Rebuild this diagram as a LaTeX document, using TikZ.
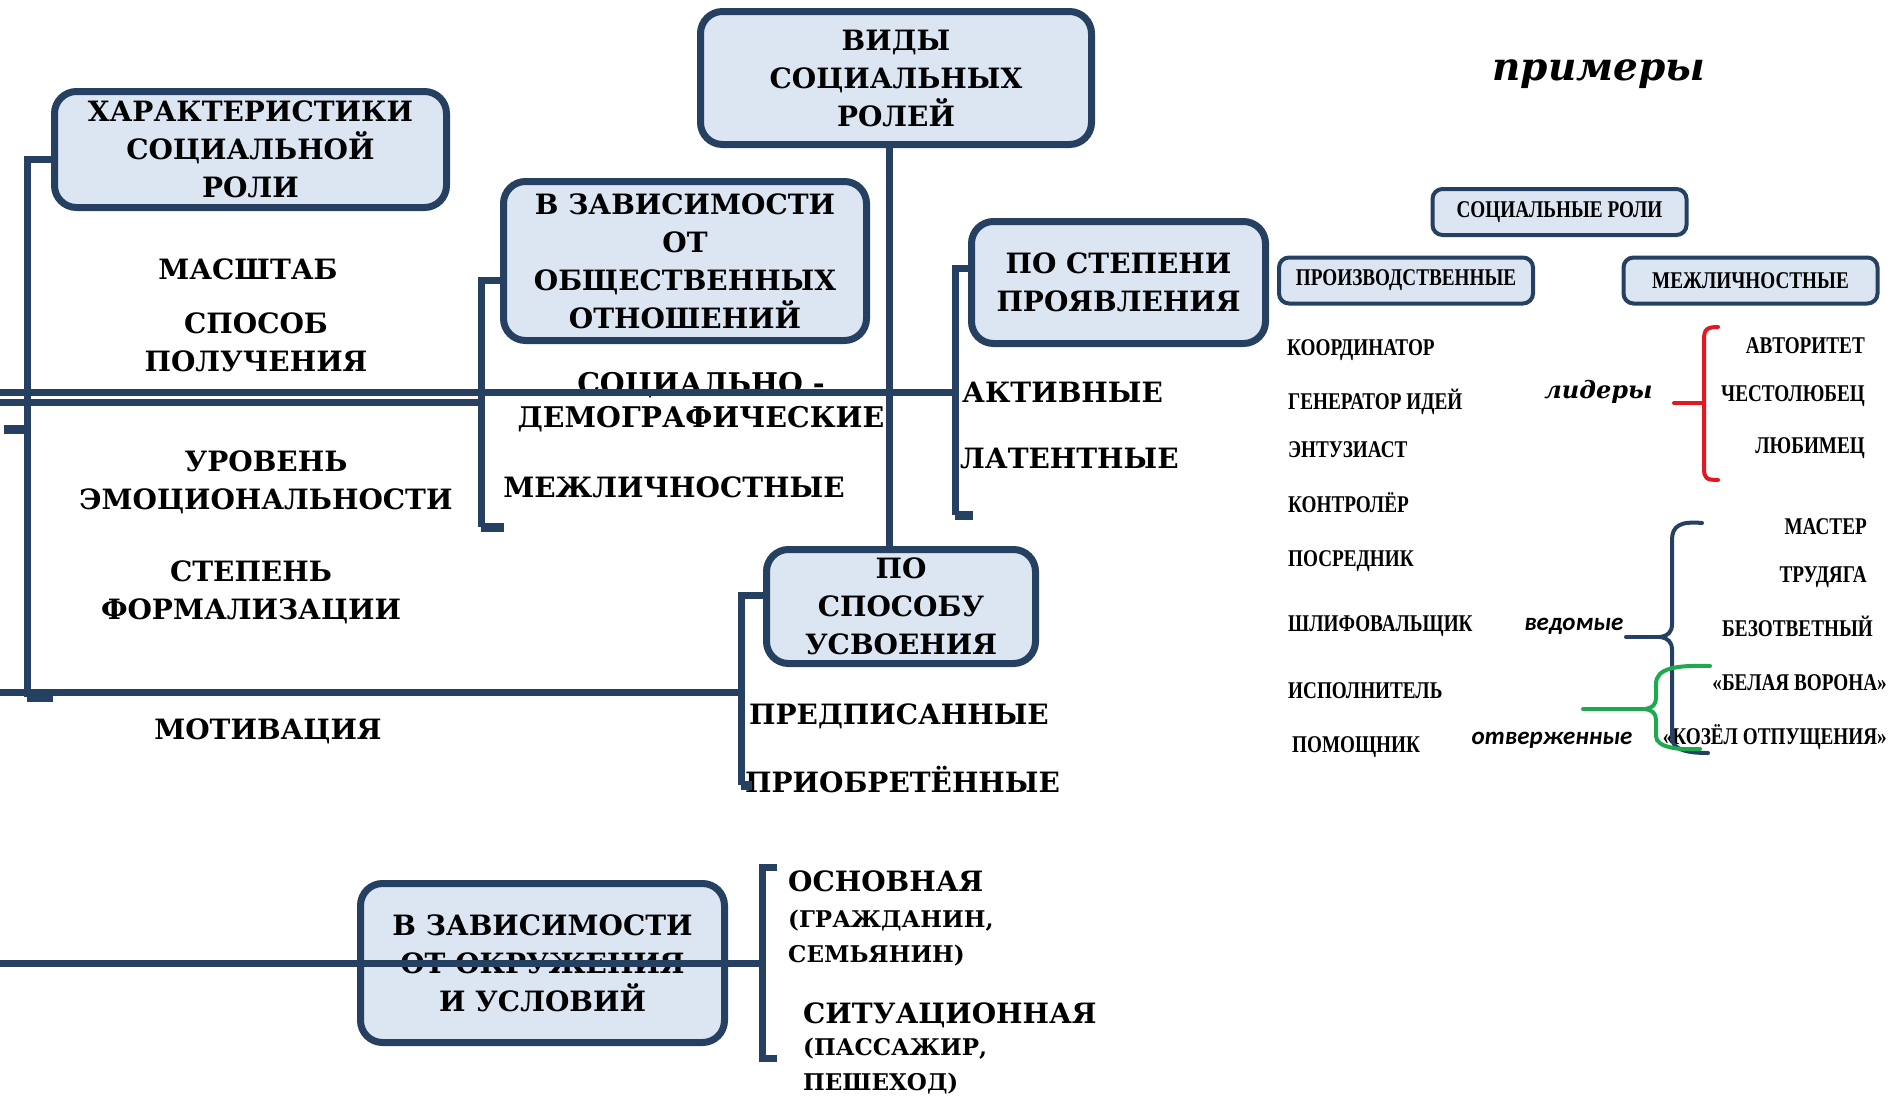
\documentclass[tikz,border=0pt]{standalone}
\usepackage{fontspec}
\setmainfont{DejaVu Serif}
\newfontfamily\panelfont{Liberation Serif}[FakeStretch=0.8]
\newfontfamily\tagfont{Carlito}
\definecolor{frame}{RGB}{38,64,98}
\definecolor{boxfill}{RGB}{220,230,242}
\definecolor{leadred}{RGB}{228,24,32}
\definecolor{outgreen}{RGB}{30,168,80}
\newcommand\headfont{\fontsize{28}{38}\selectfont\bfseries}
\newcommand\notefont{\fontsize{23}{35}\selectfont\bfseries}
\newcommand\listfont{\panelfont\fontsize{24}{28}\selectfont\bfseries}
\begin{document}
\begin{tikzpicture}[x=1pt, y=-1pt,
  rolebox/.style={draw=frame, fill=boxfill, line width=7pt, rounded corners=22pt,
    align=center, font=\headfont, inner sep=0pt},
  smallbox/.style={draw=frame, fill=boxfill, line width=4pt, rounded corners=10pt,
    font=\listfont, inner sep=0pt, minimum width=254pt, minimum height=46pt},
  item/.style={font=\headfont, align=center, inner sep=0pt},
  note/.style={font=\notefont, align=left, inner sep=0pt, anchor=west},
  role/.style={font=\listfont, inner sep=0pt},
  link/.style={draw=frame, line width=7pt},
  tick/.style={draw=frame, line width=9pt},
  brace/.style={line width=4pt, line cap=round}]
  \useasboundingbox (0,0) rectangle (1890,1095);

  \node[rolebox, minimum width=391pt, minimum height=133pt] (vidy) at (896,78) {ВИДЫ\\СОЦИАЛЬНЫХ\\РОЛЕЙ};
  \node[rolebox, minimum width=392pt, minimum height=116pt] (harakt) at (250.5,149.5) {ХАРАКТЕРИСТИКИ\\СОЦИАЛЬНОЙ\\РОЛИ};
  \node[rolebox, minimum width=363pt, minimum height=159pt] (obsh) at (685,261) {В ЗАВИСИМОСТИ\\ОТ\\ОБЩЕСТВЕННЫХ\\ОТНОШЕНИЙ};
  \node[rolebox, minimum width=294pt, minimum height=122pt] (stepen) at (1118.5,282.5) {ПО СТЕПЕНИ\\ПРОЯВЛЕНИЯ};
  \node[rolebox, minimum width=269pt, minimum height=114pt] (usvoen) at (901,606.5) {ПО\\СПОСОБУ\\УСВОЕНИЯ};
  \node[rolebox, minimum width=364pt, minimum height=159pt] (okruzh) at (542.5,963) {В ЗАВИСИМОСТИ\\ОТ ОКРУЖЕНИЯ\\И УСЛОВИЙ};

  \node[item] (masshtab) at (248,269) {МАСШТАБ};
  \node[item] (poluch) at (256,342) {СПОСОБ\\ПОЛУЧЕНИЯ};
  \node[item] (emoc) at (266,482) {УРОВЕНЬ\\ЭМОЦИОНАЛЬНОСТИ};
  \node[item] (formal) at (251,592) {СТЕПЕНЬ\\ФОРМАЛИЗАЦИИ};
  \node[item] (motiv) at (268,731) {МОТИВАЦИЯ};
  \begin{scope}
    \clip (480,360) rectangle (887,440);
    \node[item, font=\fontsize{28.5}{34}\selectfont\bfseries] (demogr) at (701,402) {СОЦИАЛЬНО -\\ДЕМОГРАФИЧЕСКИЕ};
  \end{scope}
  \node[item] (mezhl) at (674,487) {МЕЖЛИЧНОСТНЫЕ};
  \node[item, anchor=west] (aktiv) at (962,392) {АКТИВНЫЕ};
  \node[item, anchor=west] (latent) at (960,458) {ЛАТЕНТНЫЕ};
  \node[item, anchor=west] (predp) at (749,716) {ПРЕДПИСАННЫЕ};
  \node[item, anchor=west] (priobr) at (745,780) {ПРИОБРЕТЁННЫЕ};
  \node[item, anchor=west] (osnov) at (788,881) {ОСНОВНАЯ};
  \node[note] (grazhd) at (788,938) {(ГРАЖДАНИН,\\СЕМЬЯНИН)};
  \node[item, anchor=west] (situac) at (803,1015) {СИТУАЦИОННАЯ};
  \node[note] (passazh) at (803,1066) {(ПАССАЖИР,\\ПЕШЕХОД)};

  \coordinate (lefttop) at (27,159);
  \coordinate (leftbot) at (27,697);
  \coordinate (leftmid) at (27,429);
  \coordinate (edgeA) at (0,392);
  \coordinate (edgeB) at (0,402);
  \coordinate (edgeC) at (0,692);
  \coordinate (edgeD) at (0,963);
  \coordinate (obshtop) at (481,280);
  \coordinate (obshbot) at (481,527);
  \coordinate (steptop) at (955,268);
  \coordinate (stepbot) at (955,515);
  \coordinate (usvtop) at (741,595);
  \coordinate (usvbot) at (741,785);
  \coordinate (okrtop) at (762,867);
  \coordinate (okrbot) at (762,1058);

  \draw[link] ([xshift=-7pt]vidy.south) -- ([xshift=-7pt]vidy.south |- usvoen.north);
  \draw[link] (harakt.west |- lefttop) -- (lefttop) -- (leftbot);
  \draw[tick] (leftbot) -- ++(26,0);
  \draw[tick] (leftmid) -- ++(-23,0);
  \draw[link] (obsh.west |- obshtop) -- (obshtop) -- (obshbot);
  \draw[tick] (obshbot) -- ++(23,0);
  \draw[link] (stepen.west |- steptop) -- (steptop) -- (stepbot);
  \draw[tick] (stepbot) -- ++(18,0);
  \draw[link] (usvoen.west |- usvtop) -- (usvtop) -- (usvbot);
  \draw[tick] (usvbot) -- ++(11,0);
  \draw[link] ([xshift=15pt]okrtop) -- (okrtop) -- (okrbot) -- ++(15,0);
  \draw[link] (edgeA) -- (edgeA -| steptop);
  \draw[link] (edgeB) -- (edgeB -| obshtop);
  \draw[link] (edgeC) -- (edgeC -| usvtop);
  \draw[link] (edgeD) -- (edgeD -| okrtop);

  \node[font=\fontsize{39}{46}\selectfont\bfseries\itshape] (primery) at (1599,74) {примеры};
  \node[smallbox] (socroli) at (1559.5,212) {СОЦИАЛЬНЫЕ РОЛИ};
  \node[smallbox] (proizv) at (1406,280.5) {ПРОИЗВОДСТВЕННЫЕ};
  \node[smallbox] (mezhrol) at (1750.5,280.5) {МЕЖЛИЧНОСТНЫЕ};

  \foreach \x/\y/\t [count=\i] in {1287/350/КООРДИНАТОР, 1288/402/ГЕНЕРАТОР ИДЕЙ,
      1288/450/ЭНТУЗИАСТ, 1288/503/КОНТРОЛЁР, 1288/561/ПОСРЕДНИК,
      1288/626/ШЛИФОВАЛЬЩИК, 1288/691/ИСПОЛНИТЕЛЬ, 1292/747/ПОМОЩНИК}
    \node[role, anchor=west] (prod\i) at (\x,\y) {\t};
  \foreach \x/\y/\t [count=\i] in {1865/346/АВТОРИТЕТ, 1865/396/ЧЕСТОЛЮБЕЦ,
      1865/448/ЛЮБИМЕЦ, 1867/527/МАСТЕР, 1867/577/ТРУДЯГА,
      1873/626/БЕЗОТВЕТНЫЙ, 1887/683/«БЕЛАЯ ВОРОНА», 1887/737/«КОЗЁЛ ОТПУЩЕНИЯ»}
    \node[role, anchor=east] (inter\i) at (\x,\y) {\t};

  \node[font=\fontsize{24}{28}\selectfont\bfseries\itshape, anchor=east] (lidery) at (1656,392) {лидеры};
  \node[font=\tagfont\fontsize{25}{28}\selectfont\bfseries\itshape, anchor=east] (vedomye) at (1627,626) {ведомые};
  \node[font=\tagfont\fontsize{25}{28}\selectfont\bfseries\itshape, anchor=east] (otverzh) at (1636,740) {отверженные};

  \draw[brace, leadred] (1718,327) .. controls (1706,327) and (1704,330) .. (1704,340)
    -- (1704,468) .. controls (1704,478) and (1706,480) .. (1718,480);
  \draw[brace, leadred] (1674,403) -- (1704,403);
  \draw[brace, frame] (1702,523) .. controls (1680,521) and (1672,526) .. (1672,540)
    -- (1672,624) .. controls (1672,632) and (1668,636) .. (1660,637)
    .. controls (1668,638) and (1672,642) .. (1672,650)
    -- (1672,738) .. controls (1672,750) and (1688,753) .. (1708,753);
  \draw[brace, frame] (1626,637) -- (1660,637);
  \draw[brace, outgreen] (1710,666) .. controls (1676,665) and (1656,668) .. (1656,684)
    -- (1656,698) .. controls (1656,705) and (1652,708) .. (1645,709)
    .. controls (1652,710) and (1656,713) .. (1656,720)
    -- (1656,736) .. controls (1656,748) and (1680,750) .. (1700,749);
  \draw[brace, outgreen] (1583,709) -- (1645,709);
\end{tikzpicture}
\end{document}
